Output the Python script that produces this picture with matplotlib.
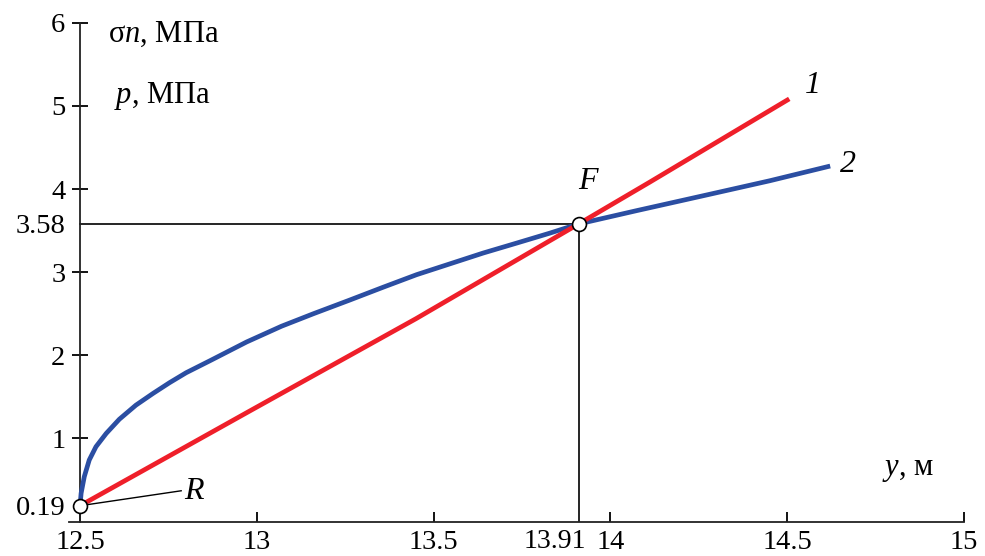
import matplotlib
matplotlib.use('Agg')
import matplotlib.pyplot as plt

plt.rcParams['font.family'] = ['Liberation Serif', 'DejaVu Serif']
plt.rcParams['mathtext.fontset'] = 'custom'
plt.rcParams['mathtext.rm'] = 'Liberation Serif'
plt.rcParams['mathtext.it'] = 'Liberation Serif:italic'

# curve 1 (red, straight) and curve 2 (blue)
y1 = [12.5, 12.98, 13.45, 13.91, 14.11, 14.5]
p1 = [0.19, 1.33, 2.44, 3.58, 4.08, 5.07]

y2 = [12.5, 12.503, 12.512, 12.526, 12.545, 12.574, 12.611, 12.658, 12.706,
      12.753, 12.80, 12.87, 12.971, 13.07, 13.16, 13.26, 13.358, 13.452,
      13.546, 13.640, 13.735, 13.829, 13.91, 14.074, 14.263, 14.451, 14.615]
p2 = [0.19, 0.34, 0.54, 0.74, 0.90, 1.06, 1.23, 1.40, 1.54,
      1.67, 1.79, 1.94, 2.16, 2.35, 2.50, 2.66, 2.82, 2.97,
      3.10, 3.23, 3.35, 3.47, 3.58, 3.74, 3.92, 4.10, 4.27]

R = (12.5, 0.19)
F = (13.91, 3.58)

xticks = [12.5, 13, 13.5, 14, 14.5, 15]
xlabels = ['12.5', '13', '13.5', '14', '14.5', '15']
yticks = [0.19, 1, 2, 3, 3.58, 4, 5, 6]
ylabels = ['0.19', '1', '2', '3', '3.58', '4', '5', '6']

fig = plt.figure(figsize=(9.85, 5.56), dpi=100)
ax = fig.add_axes([0.0705, 0.062, 0.9082, 0.897])

ax.set_xlim(12.47, 15.0)
ax.set_ylim(0, 6)

ax.spines['top'].set_visible(False)
ax.spines['right'].set_visible(False)
ax.spines['left'].set_position(('data', 12.5))
for s in ['left', 'bottom']:
    ax.spines[s].set_linewidth(1.3)
    ax.spines[s].set_color('#222222')

ax.set_xticks(xticks)
ax.set_xticklabels(xlabels)
ax.set_yticks(yticks)
ax.set_yticklabels(ylabels)
ax.tick_params(axis='x', direction='in', length=7, width=1.3, labelsize=20.5, pad=6)
ax.tick_params(axis='y', direction='inout', length=11, width=1.3, labelsize=20.5, pad=5)
# no tick marks for the special values
for t in ax.yaxis.get_major_ticks():
    if t.get_loc() in (0.19, 3.58):
        t.tick1line.set_visible(False)

# guide lines to point F
ax.plot([12.5, F[0]], [F[1], F[1]], color='black', lw=1.2, zorder=2)
ax.plot([F[0], F[0]], [0, F[1]], color='black', lw=1.2, zorder=2)

ax.plot(y2, p2, color='#2b4ea2', lw=3.4, zorder=3, clip_on=False)
ax.plot(y1, p1, color='#ef1f2a', lw=3.4, zorder=4, clip_on=False)

ax.plot([R[0], F[0]], [R[1], F[1]], linestyle='none', marker='o', ms=10,
        mfc='white', mec='black', mew=1.2, zorder=6, clip_on=False)

# leader to R
ax.plot([R[0], 12.786], [R[1], 0.37], color='black', lw=1.0, zorder=5)

ax.text(12.795, 0.27, 'R', style='italic', fontsize=23, ha='left', va='baseline')
ax.text(13.937, 4.0, 'F', style='italic', fontsize=23, ha='center', va='baseline')
ax.text(14.572, 5.15, '1', style='italic', fontsize=23, ha='center', va='baseline')
ax.text(14.673, 4.21, '2', style='italic', fontsize=23, ha='center', va='baseline')

ax.text(12.579, 5.77, r'$\mathrm{σ}n$, МПа', fontsize=22, ha='left', va='baseline')
ax.text(12.595, 5.04, r'$p$, МПа', fontsize=22, ha='left', va='baseline')
ax.text(14.768, 0.56, r'$y$, м', fontsize=22, ha='left', va='baseline')

ax.text(13.843, -0.09, '13.91', fontsize=20, ha='center', va='top', clip_on=False)

fig.savefig('out.png', dpi=100)
